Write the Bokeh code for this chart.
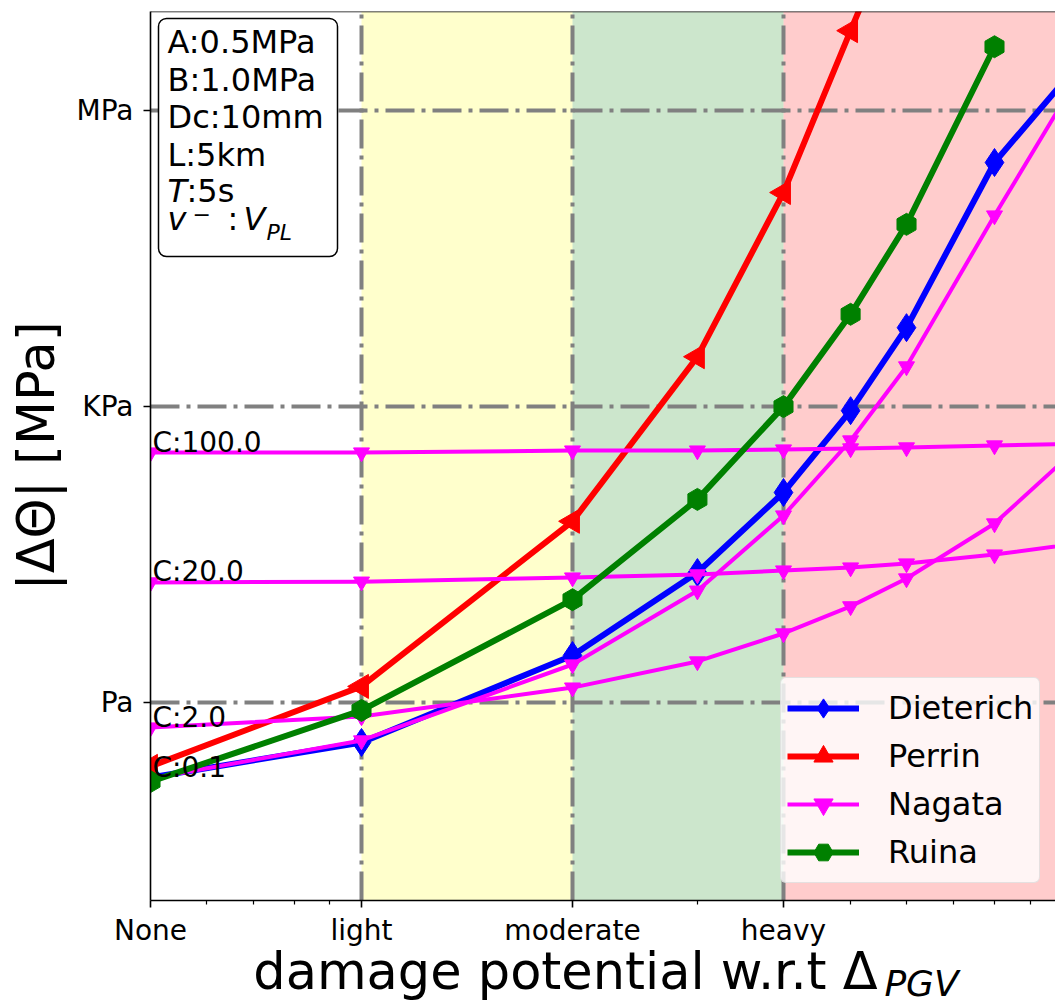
import numpy as np
from bokeh.plotting import figure
from bokeh.models import (FixedTicker, CustomJSTickFormatter, BoxAnnotation, Label,
                          Legend, LegendItem, Span, LinearAxis)
from bokeh.core.properties import value
from bokeh.embed import file_html
from bokeh.resources import INLINE

# ---------------- data ----------------
levels = ["None", "light", "moderate", "heavy"]
level_pos = [0, 1, 2, 3]
x_minor = [0.265, 0.488, 0.682, 0.848, 2.592, 3.318, 3.583, 3.806, 4.0, 4.171]
stress_ticks = [1e-6, 1e-3, 1.0]
stress_labels = ["Pa", "KPa", "MPa"]

x_pgv = [0, 1, 2, 2.592, 3, 3.318, 3.583, 4.0, 4.5]

dieterich = [1.76e-7, 3.98e-7, 3.02e-6, 2.09e-5, 1.35e-4, 9.1e-4, 6.3e-3, 0.296, 5.3]
perrin = [2.28e-7, 1.47e-6, 6.9e-5, 3.2e-3, 0.147, 6.4, 146.0]
ruina = [1.6e-7, 8.4e-7, 1.11e-5, 1.15e-4, 1.0e-3, 8.6e-3, 0.070, 4.4]

nagata_C = [0.1, 2.0, 20.0, 100.0]
nagata_c01 = [1.72e-7, 4.17e-7, 2.45e-6, 1.37e-5, 7.9e-5, 4.54e-4, 2.55e-3, 0.086, 5.1]
nagata_c2 = [5.64e-7, 7.29e-7, 1.43e-6, 2.63e-6, 5.05e-6, 9.5e-6, 1.82e-5, 6.56e-5, 6.15e-4]
nagata_c20 = [1.66e-5, 1.69e-5, 1.86e-5, 2.0e-5, 2.19e-5, 2.35e-5, 2.58e-5, 3.18e-5, 4.41e-5]
nagata_c100 = [3.43e-4, 3.43e-4, 3.59e-4, 3.59e-4, 3.68e-4, 3.77e-4, 3.86e-4, 4.04e-4, 4.23e-4]
nagata_all = [nagata_c01, nagata_c2, nagata_c20, nagata_c100]

info_lines = ["A:0.5MPa", "B:1.0MPa", "Dc:10mm", "L:5km"]
x_title = "damage potential w.r.t Δ"
x_title_sub = "PGV"
y_title = "|ΔΘ| [MPa]"

# ---------------- geometry helpers (annotation placement only) ----------------
FL, FR, FT, FB = 150, 1055, 11, 900
PXX = 211.0
PXY = (FB - FT) / 9.0
def sx(px):
    return (px - FL) / PXX
def sy(py):
    return 10 ** (1 - (py - FT) / PXY)

FONT = "DejaVu Sans"

p = figure(width=1055, height=1006, x_range=(0, sx(FR)), y_range=(1e-8, 10),
           y_axis_type="log", output_backend="svg", toolbar_location=None,
           min_border_left=FL, min_border_right=0, min_border_top=FT,
           min_border_bottom=1006 - FB)
p.outline_line_color = None
p.background_fill_color = "white"
p.border_fill_color = "white"

# damage bands
p.add_layout(BoxAnnotation(left=1, right=2, fill_color="yellow", fill_alpha=0.2,
                           line_color=None, level="image"))
p.add_layout(BoxAnnotation(left=2, right=3, fill_color="green", fill_alpha=0.2,
                           line_color=None, level="image"))
p.add_layout(BoxAnnotation(left=3, right=sx(FR), fill_color="red", fill_alpha=0.2,
                           line_color=None, level="image"))

# grid
p.xgrid.ticker = FixedTicker(ticks=level_pos)
p.ygrid.ticker = FixedTicker(ticks=stress_ticks)
for g in (p.xgrid, p.ygrid):
    g.grid_line_color = "#808080"
    g.grid_line_width = 4
    g.grid_line_dash = "29 7 4 7"

# axes
p.xaxis.ticker = FixedTicker(ticks=level_pos, minor_ticks=x_minor)
p.yaxis.ticker = FixedTicker(ticks=stress_ticks, minor_ticks=[])
p.xaxis.formatter = CustomJSTickFormatter(args=dict(lvl=levels), code="""
const i = Math.round(tick);
if (Math.abs(tick - i) < 1e-9 && i >= 0 && i < lvl.length) return lvl[i];
return "";
""")
p.yaxis.formatter = CustomJSTickFormatter(args=dict(tv=stress_ticks, tl=stress_labels), code="""
for (let i = 0; i < tv.length; i++) {
  if (Math.abs(Math.log10(tick) - Math.log10(tv[i])) < 1e-6) return tl[i];
}
return "";
""")
for ax in (p.xaxis, p.yaxis):
    ax.major_label_text_font = FONT
    ax.major_label_text_font_size = "28px"
    ax.major_label_text_color = "black"
    ax.axis_line_color = "black"
    ax.axis_line_width = 1.6
    ax.major_tick_line_color = "black"
    ax.major_tick_line_width = 1.6
    ax.minor_tick_line_color = "black"
    ax.minor_tick_line_width = 1.2
    ax.major_tick_out = 7
    ax.major_tick_in = 0
    ax.minor_tick_out = 4
    ax.minor_tick_in = 0
    ax.axis_label_text_font = FONT
    ax.axis_label_text_font_size = "51px"
    ax.axis_label_text_font_style = "normal"
    ax.axis_label_text_color = "black"
p.yaxis.major_label_standoff = 10
p.xaxis.major_label_standoff = 6
p.yaxis.axis_label = y_title
p.yaxis.axis_label_standoff = 8
p.xaxis.axis_label = x_title + "\u00a0" * 4 + "\u2009"
p.xaxis.axis_label_standoff = -8

# subscript of the x title, as the only tick label of a bare second axis
sub_axis = LinearAxis(ticker=FixedTicker(ticks=[sx(921)], minor_ticks=[]),
                      formatter=CustomJSTickFormatter(args=dict(s=x_title_sub), code="return s;"),
                      axis_line_color=None, major_tick_line_color=None,
                      minor_tick_line_color=None, major_tick_out=0, major_tick_in=0,
                      minor_tick_out=0, minor_tick_in=0, major_label_standoff=-41,
                      major_label_text_font=FONT, major_label_text_font_size="36px",
                      major_label_text_font_style="italic", major_label_text_color="black")
p.add_layout(sub_axis, "below")

# top border
p.add_layout(Span(location=10, dimension="width", line_color="black", line_width=1.6))

# ---------------- series ----------------
def series(y, color, lw, marker, size, angle=0.0):
    x = x_pgv[:len(y)]
    r1 = p.line(x, y, line_color=color, line_width=lw, line_join="round")
    r2 = p.scatter(x, y, marker=marker, size=size, angle=angle,
                   fill_color=color, line_color=color)
    return [r1, r2]

r_d = series(dieterich, "blue", 6, "diamond", 28)
r_p = series(perrin, "red", 6, "triangle", 24, np.pi / 2)
r_n = None
for ys in nagata_all:
    rr = series(ys, "magenta", 4, "inverted_triangle", 16)
    if r_n is None:
        r_n = rr
r_r = series(ruina, "green", 6, "hex", 22, np.pi / 6)

# C labels
p.text(x=[x_pgv[0]] * len(nagata_C), y=[ys[0] for ys in nagata_all],
       text=[f"C:{c}" for c in nagata_C], x_offset=2, y_offset=6,
       text_font=value(FONT), text_font_size=value("28px"),
       text_baseline="bottom", text_align="left", text_color="black")

# ---------------- info box ----------------
box_kw = dict(left=sx(158), right=sx(337), top=sy(18), bottom=sy(256),
              fill_color="white", fill_alpha=1.0, line_color="black", line_alpha=1.0,
              line_width=1.5, level="annotation")
if "border_radius" in BoxAnnotation.properties():
    box_kw["border_radius"] = 8
p.add_layout(BoxAnnotation(**box_kw))

D = 7.5  # descent of a 32px DejaVu line, used with bottom-anchored labels
def lab(px, base, text, size="32px", style="normal", desc=D):
    p.add_layout(Label(x=sx(px), y=sy(base + desc), text=text, text_font=FONT,
                       text_font_size=size, text_font_style=style, text_color="black",
                       text_baseline="bottom", text_align="left"))

for t, b in zip(info_lines, [53, 91, 128, 166]):
    lab(167, b, t)
lab(167, 202, "T", style="italic")
lab(186, 202, ":5s")
lab(167, 230, "v", style="italic")
lab(192, 216, "−", size="22px", desc=5)
lab(227, 230, ":")
lab(243, 230, "V", style="italic")
lab(266, 239, "PL", size="22px", style="italic", desc=5)

# ---------------- legend ----------------
legend = Legend(items=[LegendItem(label="Dieterich", renderers=r_d),
                       LegendItem(label="Perrin", renderers=r_p),
                       LegendItem(label="Nagata", renderers=r_n),
                       LegendItem(label="Ruina", renderers=r_r)],
                location=(630, 17))
legend.label_text_font = FONT
legend.label_text_font_size = "32px"
legend.label_text_color = "black"
legend.glyph_width = 72
legend.glyph_height = 48
legend.label_height = 48
legend.spacing = 0
legend.padding = 6
legend.margin = 0
legend.label_standoff = 29
legend.background_fill_color = "white"
legend.background_fill_alpha = 0.8
legend.border_line_color = "#cccccc"
legend.border_line_width = 1
if "border_radius" in Legend.properties():
    legend.border_radius = 6
p.add_layout(legend)

open("out.html", "w").write(file_html(p, INLINE))
